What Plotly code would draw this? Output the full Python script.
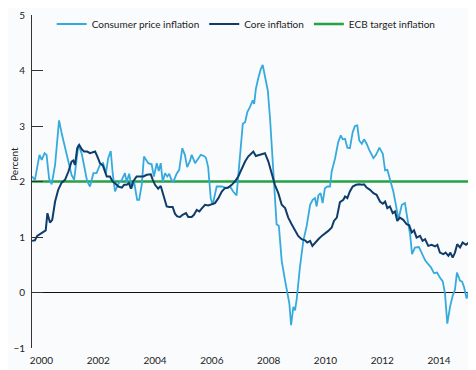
import plotly.graph_objects as go

# ---- data (decimal years, percent) ----
cpi_t = [1999.67, 1999.77, 1999.93, 2000.01, 2000.11, 2000.18, 2000.27, 2000.36, 2000.48, 2000.62,
         2000.72, 2000.83, 2000.95, 2001.06, 2001.15, 2001.30, 2001.42, 2001.53, 2001.61, 2001.71,
         2001.83, 2001.94, 2002.06, 2002.17, 2002.27, 2002.35, 2002.44, 2002.51, 2002.59, 2002.71,
         2002.83, 2002.94, 2003.00, 2003.09, 2003.18, 2003.26, 2003.37, 2003.44, 2003.53, 2003.61,
         2003.76, 2003.88, 2003.96, 2004.06, 2004.13, 2004.20, 2004.27, 2004.35, 2004.43, 2004.50,
         2004.56, 2004.64, 2004.76, 2004.85, 2004.96, 2005.05, 2005.13, 2005.23, 2005.29, 2005.41,
         2005.52, 2005.61, 2005.72, 2005.79, 2005.87, 2005.96, 2006.03, 2006.17, 2006.35, 2006.52,
         2006.64, 2006.75, 2006.87, 2006.99, 2007.09, 2007.17, 2007.25, 2007.34, 2007.44, 2007.49,
         2007.55, 2007.63, 2007.72, 2007.79, 2007.87, 2007.97, 2008.05, 2008.14, 2008.22, 2008.28,
         2008.36, 2008.46, 2008.58, 2008.66, 2008.73, 2008.79, 2008.87, 2008.93, 2008.99, 2009.10,
         2009.22, 2009.34, 2009.46, 2009.55, 2009.63, 2009.69, 2009.75, 2009.83, 2009.90, 2009.98,
         2010.07, 2010.16, 2010.22, 2010.34, 2010.45, 2010.54, 2010.61, 2010.69, 2010.77, 2010.86,
         2010.96, 2011.04, 2011.12, 2011.19, 2011.28, 2011.36, 2011.45, 2011.54, 2011.69, 2011.78,
         2011.90, 2012.02, 2012.10, 2012.18, 2012.27, 2012.39, 2012.48, 2012.57, 2012.69, 2012.80,
         2012.88, 2012.98, 2013.05, 2013.15, 2013.29, 2013.39, 2013.51, 2013.62, 2013.72, 2013.82,
         2013.93, 2014.03, 2014.13, 2014.21, 2014.29, 2014.39, 2014.48, 2014.56, 2014.63, 2014.74,
         2014.81, 2014.88, 2014.97, 2015.03, 2015.09]
cpi_v = [2.09, 2.03, 2.48, 2.39, 2.51, 2.48, 2.05, 1.95, 2.30, 3.10,
         2.85, 2.60, 2.35, 2.12, 2.03, 2.66, 2.50, 2.24, 2.00, 1.91,
         2.15, 2.15, 2.30, 2.33, 2.15, 2.42, 2.55, 2.14, 1.82, 1.96,
         2.03, 2.15, 1.99, 2.14, 1.88, 2.00, 1.67, 1.67, 1.94, 2.45,
         2.33, 2.31, 2.09, 2.33, 2.19, 2.33, 1.99, 2.15, 2.09, 2.14,
         2.05, 1.99, 2.14, 2.21, 2.60, 2.48, 2.26, 2.37, 2.48, 2.33,
         2.42, 2.48, 2.46, 2.43, 2.26, 1.70, 1.58, 1.91, 1.91, 1.88,
         1.91, 1.82, 1.75, 2.45, 3.04, 3.07, 3.25, 3.34, 3.46, 3.40,
         3.67, 3.85, 4.02, 4.10, 3.90, 3.64, 3.13, 2.30, 1.76, 1.23,
         1.20, 0.57, 0.21, -0.02, -0.20, -0.59, -0.26, -0.32, -0.11, 0.45,
         0.93, 1.20, 1.58, 1.67, 1.70, 1.55, 1.75, 1.79, 1.61, 1.88,
         1.91, 1.91, 2.18, 2.42, 2.71, 2.83, 2.76, 2.77, 2.61, 2.60,
         2.89, 3.00, 3.01, 2.74, 2.68, 2.76, 2.68, 2.57, 2.42, 2.48,
         2.61, 2.50, 2.20, 2.21, 2.03, 1.82, 1.58, 1.32, 1.58, 1.61,
         1.35, 1.05, 0.69, 0.81, 0.82, 0.72, 0.58, 0.51, 0.45, 0.35,
         0.36, 0.27, 0.20, -0.02, -0.56, -0.25, -0.06, 0.05, 0.36, 0.21,
         0.20, 0.10, -0.11, 0.00, 0.02]

core_t = [1999.67, 1999.77, 1999.85, 2000.01, 2000.15, 2000.21, 2000.30, 2000.38, 2000.48, 2000.59,
          2000.71, 2000.83, 2000.95, 2001.06, 2001.12, 2001.18, 2001.26, 2001.33, 2001.42, 2001.50,
          2001.61, 2001.71, 2001.80, 2001.89, 2001.97, 2002.06, 2002.16, 2002.24, 2002.30, 2002.41,
          2002.51, 2002.59, 2002.71, 2002.83, 2002.91, 2003.00, 2003.08, 2003.15, 2003.23, 2003.35,
          2003.47, 2003.59, 2003.71, 2003.85, 2003.92, 2004.00, 2004.11, 2004.20, 2004.29, 2004.41,
          2004.50, 2004.62, 2004.70, 2004.78, 2004.88, 2004.97, 2005.09, 2005.17, 2005.29, 2005.37,
          2005.47, 2005.56, 2005.64, 2005.76, 2005.87, 2005.99, 2006.11, 2006.23, 2006.35, 2006.46,
          2006.58, 2006.70, 2006.81, 2006.93, 2007.05, 2007.17, 2007.28, 2007.40, 2007.46, 2007.55,
          2007.67, 2007.79, 2007.87, 2007.99, 2008.11, 2008.22, 2008.34, 2008.46, 2008.58, 2008.69,
          2008.81, 2008.93, 2009.04, 2009.16, 2009.28, 2009.36, 2009.46, 2009.54, 2009.63, 2009.75,
          2009.87, 2009.98, 2010.10, 2010.22, 2010.30, 2010.40, 2010.51, 2010.63, 2010.69, 2010.77,
          2010.86, 2010.96, 2011.08, 2011.19, 2011.29, 2011.36, 2011.45, 2011.57, 2011.69, 2011.80,
          2011.92, 2012.02, 2012.10, 2012.18, 2012.27, 2012.37, 2012.45, 2012.53, 2012.62, 2012.74,
          2012.86, 2012.95, 2013.04, 2013.12, 2013.21, 2013.33, 2013.42, 2013.51, 2013.62, 2013.74,
          2013.86, 2013.94, 2014.03, 2014.15, 2014.23, 2014.33, 2014.40, 2014.48, 2014.56, 2014.64,
          2014.74, 2014.83, 2014.95, 2015.07]
core_v = [0.93, 0.94, 1.02, 1.08, 1.12, 1.43, 1.26, 1.31, 1.64, 1.85,
          1.98, 2.03, 2.18, 2.36, 2.38, 2.30, 2.60, 2.66, 2.58, 2.54,
          2.54, 2.51, 2.52, 2.54, 2.45, 2.33, 2.29, 2.18, 2.09, 2.09,
          2.00, 1.97, 1.91, 1.89, 1.94, 1.94, 1.97, 1.87, 2.00, 2.09,
          2.09, 2.09, 2.12, 2.13, 2.03, 1.94, 1.87, 1.92, 1.76, 1.55,
          1.54, 1.54, 1.42, 1.37, 1.36, 1.40, 1.43, 1.36, 1.36, 1.40,
          1.49, 1.46, 1.51, 1.58, 1.57, 1.59, 1.61, 1.70, 1.82, 1.88,
          1.89, 1.94, 2.00, 2.09, 2.24, 2.36, 2.45, 2.51, 2.54, 2.46,
          2.48, 2.51, 2.51, 2.36, 2.15, 1.94, 1.79, 1.58, 1.52, 1.35,
          1.23, 1.11, 1.02, 0.96, 0.94, 0.90, 0.93, 0.84, 0.90, 0.96,
          1.02, 1.06, 1.11, 1.17, 1.29, 1.35, 1.63, 1.67, 1.73, 1.70,
          1.82, 1.91, 1.94, 1.95, 1.94, 1.95, 1.89, 1.85, 1.79, 1.76,
          1.64, 1.60, 1.64, 1.52, 1.55, 1.43, 1.46, 1.29, 1.35, 1.31,
          1.23, 1.21, 1.08, 1.12, 0.99, 1.02, 0.93, 0.96, 0.84, 0.86,
          0.83, 0.86, 0.72, 0.69, 0.72, 0.66, 0.72, 0.63, 0.72, 0.87,
          0.81, 0.90, 0.86, 0.91]

ecb_target = 2.0
year_ticks = [2000, 2002, 2004, 2006, 2008, 2010, 2012, 2014]
y_ticks = [-1, 0, 1, 2, 3, 4, 5]

FONT = "Lato"
CPI_COLOR = "#36aadd"
CORE_COLOR = "#0f3c69"
ECB_COLOR = "#24a245"
BG = "#f9fbfd"

fig = go.Figure()
fig.add_trace(go.Scatter(x=[cpi_t[0], cpi_t[-1]], y=[ecb_target, ecb_target], mode="lines",
                         name="ECB target inflation", line=dict(color=ECB_COLOR, width=2.5),
                         legendrank=3))
fig.add_trace(go.Scatter(x=cpi_t, y=cpi_v, mode="lines", name="Consumer price inflation",
                         line=dict(color=CPI_COLOR, width=1.8), legendrank=1))
fig.add_trace(go.Scatter(x=core_t, y=core_v, mode="lines", name="Core inflation",
                         line=dict(color=CORE_COLOR, width=2), legendrank=2))

# the page places the figure 8px in from the top-left corner (body margin)
fig.update_layout(
    width=468, height=362,
    margin=dict(l=24, r=6, t=7, b=22, autoexpand=False),
    paper_bgcolor=BG, plot_bgcolor=BG,
    font=dict(family=FONT, size=10, color="#222"),
    showlegend=True,
    legend=dict(orientation="h", x=0.045, xanchor="left", y=0.973, yanchor="middle",
                bgcolor="rgba(0,0,0,0)", font=dict(size=10, family=FONT, color="#222"),
                traceorder="normal", itemwidth=30),
    xaxis=dict(range=[1999.667, 2015.09], showgrid=False, zeroline=False, showline=False,
               automargin=False, ticklabelstandoff=5, ticklabeloverflow="allow",
               tickmode="array", tickvals=year_ticks, ticktext=[str(y) for y in year_ticks],
               ticks="", tickfont=dict(size=10, family=FONT, color="#222")),
    yaxis=dict(range=[-1, 5], showgrid=False, zeroline=True, zerolinecolor="#111",
               zerolinewidth=1, showline=True, linecolor="#333", linewidth=1,
               automargin=False, ticklabeloverflow="allow",
               tickmode="array", tickvals=y_ticks, ticks="inside", ticklen=11,
               tickcolor="#333", tickwidth=1, ticklabelstandoff=4,
               tickfont=dict(size=10, family=FONT, color="#222")),
    annotations=[dict(text="Percent", xref="paper", yref="paper", x=-0.041, y=0.553,
                      showarrow=False, textangle=-90, font=dict(size=10, family=FONT, color="#222"),
                      xanchor="center", yanchor="middle")],
)

fig.write_html("out.html")
